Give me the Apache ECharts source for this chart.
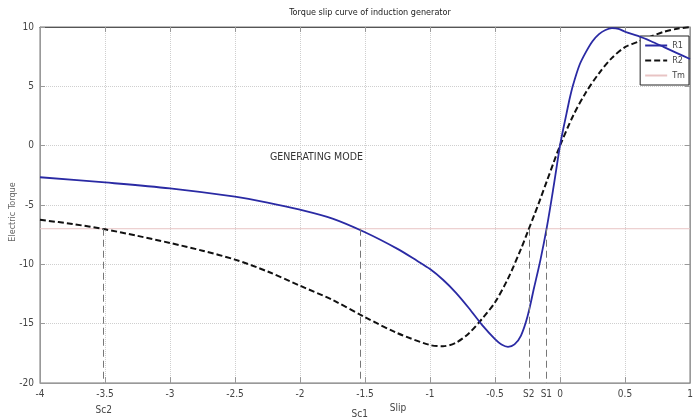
<!DOCTYPE html>
<html>
<head>
<meta charset="utf-8">
<script src="https://cdn.jsdelivr.net/npm/echarts@6/dist/echarts.min.js"></script>
<style>
html,body{margin:0;padding:0;background:#fff;}
#chart{width:698px;height:420px;}
</style>
</head>
<body>
<div id="chart"></div>
<script>
const FONT = "'Liberation Sans Narrow','DejaVu Sans Condensed','Liberation Sans',sans-serif";

const titleText = 'Torque slip curve of induction generator';
const xAxisName = 'Slip';
const yAxisName = 'Electric Torque';
const annotationText = 'GENERATING MODE';

// R1 curve (blue, solid)
const slipR1 = [-4, -3.5, -3, -2.5, -2.25, -2, -1.75, -1.5, -1.25, -1.1, -1, -0.9, -0.8, -0.7, -0.6, -0.5, -0.45, -0.4, -0.35, -0.3, -0.25, -0.2, -0.15, -0.1, -0.05, 0, 0.025, 0.05, 0.075, 0.1, 0.15, 0.2, 0.25, 0.3, 0.35, 0.4, 0.45, 0.5, 0.6, 0.7, 0.8, 0.9, 1];
const torqueR1 = [-2.66, -3.1, -3.6, -4.3, -4.8, -5.4, -6.15, -7.3, -8.7, -9.7, -10.4, -11.3, -12.4, -13.7, -15.1, -16.3, -16.75, -16.95, -16.75, -16.0, -14.4, -12.0, -9.6, -6.8, -3.5, 0, 1.4, 2.7, 4.0, 5.1, 6.8, 7.9, 8.8, 9.4, 9.75, 9.9, 9.85, 9.6, 9.25, 8.8, 8.3, 7.8, 7.3];

// R2 curve (black, dashed)
const slipR2 = [-4, -3.75, -3.5, -3.25, -3, -2.75, -2.5, -2.25, -2, -1.75, -1.5, -1.25, -1, -0.9, -0.8, -0.7, -0.6, -0.5, -0.4, -0.3, -0.25, -0.2, -0.15, -0.1, -0.05, 0, 0.1, 0.2, 0.3, 0.4, 0.5, 0.6, 0.7, 0.8, 0.9, 1];
const torqueR2 = [-6.25, -6.6, -7.05, -7.6, -8.2, -8.85, -9.6, -10.6, -11.8, -13.0, -14.45, -15.8, -16.8, -16.9, -16.6, -15.8, -14.6, -13.2, -11.2, -8.7, -7.3, -5.9, -4.45, -2.95, -1.45, 0, 2.5, 4.5, 6.1, 7.4, 8.3, 8.75, 9.2, 9.6, 9.85, 10.0];

// Mechanical torque Tm (horizontal line)
const tmValue = -7;
const tmSlip = [-4, 1];

// critical / operating slips (vertical dashed lines)
const markSlips = [-3.51, -1.54, -0.24, -0.105];
const markNames = ['Sc2', 'Sc1', 'S2', 'S1'];
const markLabelDist = [22, 26, 6, 6];

// axis ticks
const xTicks = { min: -4, max: 1, interval: 0.5 };
const yTicks = { min: -20, max: 10, interval: 5 };

const zip = (xs, ys) => xs.map((x, i) => [x, ys[i]]);

const chart = echarts.init(document.getElementById('chart'), null, { renderer: 'canvas' });

const markData = markSlips.map((s, i) => [
  { coord: [s, tmValue], label: { show: true, formatter: markNames[i], position: 'end', distance: markLabelDist[i] } },
  { coord: [s, yTicks.min] }
]);

const option = {
  backgroundColor: '#ffffff',
  animation: false,
  title: {
    text: titleText,
    left: 365, top: 3,
    textAlign: 'center',
    textStyle: { fontFamily: FONT, fontSize: 9, fontWeight: 'normal', color: '#222' }
  },
  legend: {
    orient: 'vertical',
    right: 9, top: 36,
    itemWidth: 22, itemHeight: 10, itemGap: 6,
    padding: [5, 4, 5, 4],
    borderColor: '#222', borderWidth: 1,
    backgroundColor: '#fff',
    itemStyle: { opacity: 0 },
    textStyle: { fontFamily: FONT, fontSize: 9, color: '#444' },
    data: ['R1', 'R2', 'Tm']
  },
  grid: { left: 40, right: 8, top: 27, bottom: 37, containLabel: false, outerBoundsMode: 'none', show: true, borderColor: '#777', borderWidth: 1, backgroundColor: 'transparent' },
  xAxis: [{
    type: 'value', min: xTicks.min, max: xTicks.max, interval: xTicks.interval,
    name: xAxisName, nameLocation: 'middle', nameGap: 20,
    nameTextStyle: { fontFamily: FONT, fontSize: 10, color: '#444', padding: [0, 0, 0, 66] },
    axisLine: { show: true, onZero: false, lineStyle: { color: '#999' } },
    axisTick: { show: true, inside: true, length: 6, lineStyle: { color: '#999' } },
    axisLabel: { fontFamily: FONT, fontSize: 10, color: '#444', margin: 6, showMinLabel: true, showMaxLabel: true },
    splitLine: { show: true, lineStyle: { color: '#cfcfcf', type: 'dotted', width: 1 } }
  }, {
    type: 'value', position: 'top', min: xTicks.min, max: xTicks.max, interval: xTicks.interval,
    axisLine: { show: true, onZero: false, lineStyle: { color: '#555' } },
    axisTick: { show: true, inside: true, length: 5, lineStyle: { color: '#999' } },
    axisLabel: { show: false }, splitLine: { show: false }
  }],
  yAxis: [{
    type: 'value', min: yTicks.min, max: yTicks.max, interval: yTicks.interval,
    axisLine: { show: true, onZero: false, lineStyle: { color: '#999' } },
    axisTick: { show: true, inside: true, length: 5, lineStyle: { color: '#999' } },
    axisLabel: { fontFamily: FONT, fontSize: 10, color: '#444', margin: 6, showMinLabel: true, showMaxLabel: true },
    splitLine: { show: true, lineStyle: { color: '#cfcfcf', type: 'dotted', width: 1 } }
  }, {
    type: 'value', position: 'right', min: yTicks.min, max: yTicks.max, interval: yTicks.interval,
    axisLine: { show: true, onZero: false, lineStyle: { color: '#999' } },
    axisTick: { show: true, inside: true, length: 5, lineStyle: { color: '#999' } },
    axisLabel: { show: false }, splitLine: { show: false }
  }],
  graphic: [{
    type: 'text', left: 270, top: 152,
    style: { text: annotationText, fontFamily: FONT, fontSize: 10.5, fill: '#333' }
  }, {
    type: 'text', x: 13, y: 212, rotation: Math.PI / 2,
    style: { text: yAxisName, fontFamily: FONT, fontSize: 9, fill: '#666', align: 'center', verticalAlign: 'middle' }
  }],
  series: [{
    name: 'Tm', type: 'line', data: zip(tmSlip, [tmValue, tmValue]),
    showSymbol: false, symbol: 'none',
    lineStyle: { color: '#e8c4c4', width: 1 }, itemStyle: { color: '#e8c4c4' },
    z: 1,
    markLine: {
      silent: true, symbol: ['none', 'none'],
      lineStyle: { color: '#777', type: [7, 4], width: 1 },
      label: { fontFamily: FONT, fontSize: 10, color: '#444' },
      data: markData
    }
  }, {
    name: 'R2', type: 'line', data: zip(slipR2, torqueR2),
    smooth: 0.3, showSymbol: false, symbol: 'none',
    lineStyle: { color: '#111', width: 2, type: [6, 3] }, itemStyle: { color: '#111' },
    z: 3
  }, {
    name: 'R1', type: 'line', data: zip(slipR1, torqueR1),
    smooth: 0.3, showSymbol: false, symbol: 'none',
    lineStyle: { color: '#2a2aa4', width: 1.8 }, itemStyle: { color: '#2a2aa4' },
    z: 4
  }]
};

chart.setOption(option);
</script>
</body>
</html>
